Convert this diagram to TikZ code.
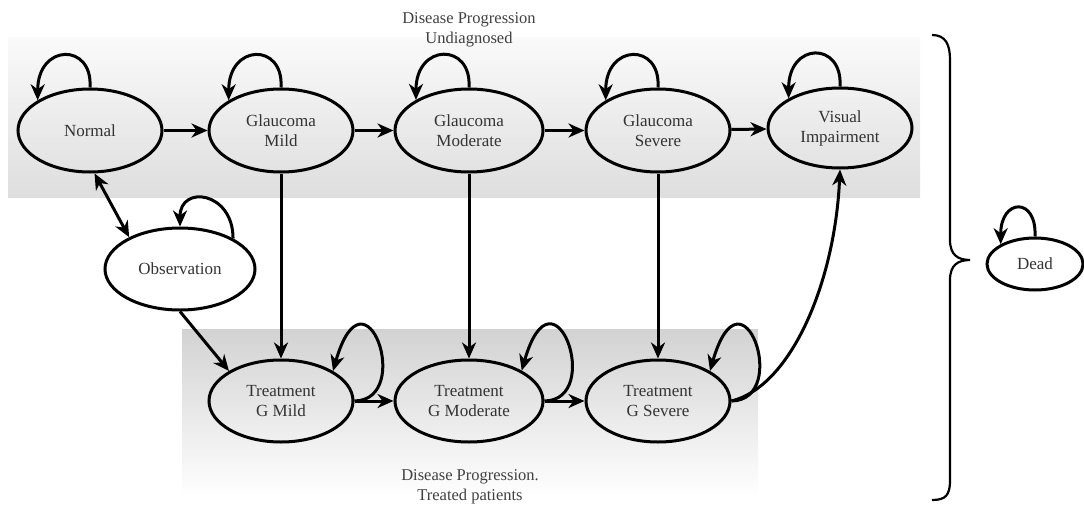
\documentclass[tikz,border=0pt]{standalone}
\usepackage{fontspec}
\setmainfont{Liberation Serif}
\usetikzlibrary{shapes.geometric,arrows.meta}
\begin{document}
\begin{tikzpicture}[x=1pt,y=-1pt,
  st/.style={ellipse,draw,line width=3pt,inner sep=0pt,align=center,
    font=\fontsize{17}{20}\selectfont,text=black!80},
  arr/.style={line width=3pt,-{Stealth[length=16pt,width=14pt,inset=5pt]}},
  dbl/.style={line width=3pt,{Stealth[length=16pt,width=14pt,inset=5pt]}-{Stealth[length=16pt,width=14pt,inset=5pt]}},
  lbl/.style={align=center,font=\fontsize{16.5}{20}\selectfont,text=black!75}]
\useasboundingbox (0,0) rectangle (1084,506);
% background bands
\shade[top color=gray!4,bottom color=gray!26] (8,37) rectangle (920,197);
\shade[top color=gray!35,bottom color=white] (182,329) rectangle (758,497);
% labels
\node[lbl] (tlab) at (469,30) {Disease Progression\\Undiagnosed};
\node[lbl] (blab) at (470,487) {Disease Progression.\\Treated patients};
% nodes
\node[st,minimum width=144pt,minimum height=83pt] (N) at (90,130.5) {Normal};
\node[st,minimum width=144pt,minimum height=83pt] (GM) at (281,130.5) {Glaucoma\\Mild};
\node[st,minimum width=148pt,minimum height=83pt] (GMo) at (469,130.5) {Glaucoma\\Moderate};
\node[st,minimum width=144pt,minimum height=83pt] (GS) at (658,130.5) {Glaucoma\\Severe};
\node[st,minimum width=144pt,minimum height=80pt] (VI) at (840,128) {Visual\\Impairment};
\node[st,fill=white,minimum width=150pt,minimum height=82pt] (O) at (180,269) {Observation};
\node[st,minimum width=144pt,minimum height=82pt] (TM) at (281,401) {Treatment\\G Mild};
\node[st,minimum width=148pt,minimum height=82pt] (TMo) at (469,401) {Treatment\\G Moderate};
\node[st,minimum width=144pt,minimum height=82pt] (TS) at (658,401) {Treatment\\G Severe};
\node[st,fill=white,minimum width=96pt,minimum height=52pt] (D) at (1035,264) {Dead};
% self loops top
\foreach \n in {N,GM,GMo,GS,VI}{
  \draw[arr] (\n.north) .. controls +(3,-45) and +(0,-57) .. (\n.150);
}
\draw[arr] (D.north) .. controls +(2,-40) and +(0,-46) .. (D.150);
\draw[arr] (O.30) .. controls +(0,-47) and +(0,-42) .. (O.north);
% self loops bottom
\foreach \n in {TM,TMo,TS}{
  \draw[arr] (\n.east) .. controls +(60,-1) and +(32,-112) .. (\n.30);
}
% horizontal edges
\draw[arr] (N) -- (GM);
\draw[arr] (GM) -- (GMo);
\draw[arr] (GMo) -- (GS);
\draw[arr] (GS) -- (VI);
\draw[arr] (TM) -- (TMo);
\draw[arr] (TMo) -- (TS);
% vertical edges
\draw[arr] (GM) -- (TM);
\draw[arr] (GMo) -- (TMo);
\draw[arr] (GS) -- (TS);
% others
\draw[dbl] (N.-84) -- (O.148);
\draw[arr] (O.south) -- (TM.150);
\draw[arr] (TS.east) .. controls +(60,-15) and +(-5,112) .. (VI.south);
% brace
\draw[line width=2.2pt] (932,35) .. controls (946,35) and (950,45) .. (950,60)
  -- (950,240) .. controls (950,255) and (958,260) .. (970,260)
  .. controls (958,260) and (950,265) .. (950,280)
  -- (950,480) .. controls (950,495) and (946,500) .. (932,500);
\end{tikzpicture}
\end{document}
